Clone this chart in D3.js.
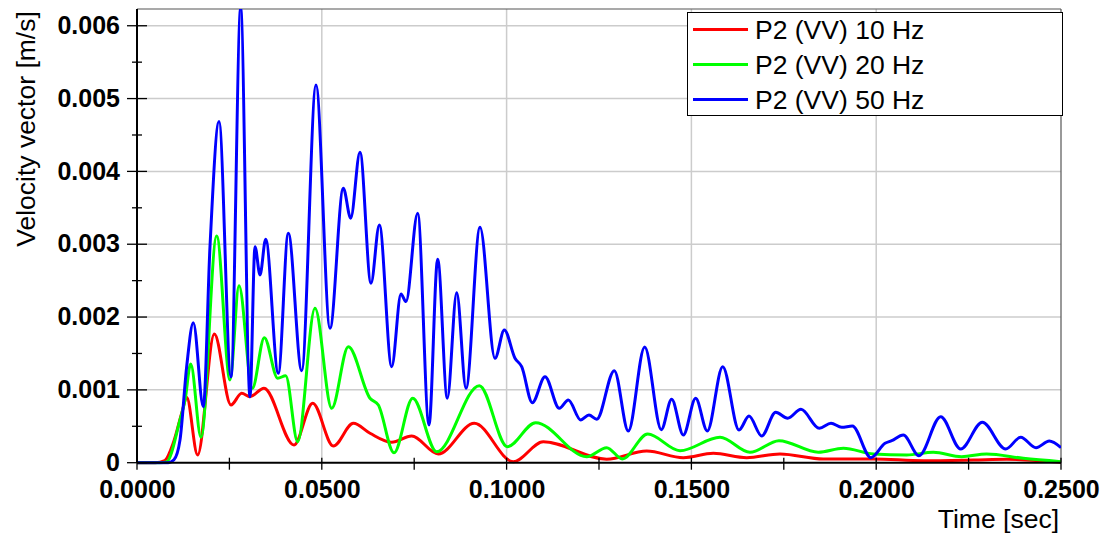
<!DOCTYPE html>
<html><head><meta charset="utf-8">
<script src="https://cdn.jsdelivr.net/npm/d3@7"></script>
<style>
html,body{margin:0;padding:0;background:#fff;}
svg{display:block;font-family:"Liberation Sans",Arial,sans-serif;}
</style></head>
<body><svg id="c" width="1111" height="540"></svg>
<script>
// ---- data (time in sec, velocity in m/s) ----
const seriesNames = ["P2 (VV) 10 Hz", "P2 (VV) 20 Hz", "P2 (VV) 50 Hz"];
const seriesColors = ["#ff0000", "#00ff00", "#0000ff"];

const red10 = [
 [0,0],[0.0050,0],[0.0075,0.00003],[0.0098,0.00027],[0.0121,0.00068],[0.01344,0.000898],
 [0.01641,0.000106],[0.02092,0.001768],[0.02543,0.000793],[0.02832,0.000953],[0.03057,0.000907],
 [0.03436,0.001022],[0.04248,0.000243],[0.04754,0.000816],[0.05311,0.000229],[0.05853,0.000541],
 [0.06304,0.000404],[0.06891,0.00028],[0.07432,0.000367],[0.08152,0.00012],[0.09126,0.000541],
 [0.10181,0.000014],[0.10993,0.000288],[0.12708,0.000047],[0.1379,0.000161],[0.14781,0.000069],
 [0.15593,0.000129],[0.16496,0.000069],[0.17397,0.00012],[0.18569,0.000051],[0.19923,0.000051],
 [0.21276,0.000027],[0.22628,0.000037],[0.23531,0.000047],[0.25,0.000005]
];
const green20 = [
 [0,0],[0.0062,0],[0.0080,0.00001],[0.01163,0.000587],[0.0130,0.00086],[0.01453,0.001356],
 [0.01732,0.000349],[0.02156,0.003114],[0.02516,0.001136],[0.0276,0.002431],[0.0312,0.001022],
 [0.03445,0.001717],[0.03807,0.001159],[0.04023,0.001195],[0.04348,0.000288],[0.04816,0.002121],
 [0.05268,0.000747],[0.05717,0.001593],[0.06304,0.000885],[0.0653,0.000793],[0.06953,0.000137],
 [0.07459,0.000885],[0.08108,0.000151],[0.09262,0.001058],[0.1002,0.00022],[0.10787,0.00055],
 [0.12167,0.000082],[0.12708,0.000206],[0.13131,0.000051],[0.13817,0.000394],[0.14692,0.000165],
 [0.15774,0.000349],[0.16585,0.000143],[0.1737,0.000302],[0.18434,0.000143],[0.19111,0.000198],
 [0.19923,0.00012],[0.20824,0.000106],[0.21546,0.000143],[0.22312,0.000082],[0.22988,0.00012],
 [0.23981,0.00006],[0.25,0.000014]
];
const blue50 = [
 [0,0],[0.0085,0],[0.0100,0.00004],[0.01163,0.00031],[0.01344,0.00132],[0.01523,0.001923],
 [0.01795,0.00077],[0.01975,0.00297],[0.02219,0.004684],[0.02543,0.00118],[0.02805,0.00624],
 [0.03057,0.000907],[0.03193,0.002967],[0.03328,0.002578],[0.03482,0.003069],[0.03823,0.001228],
 [0.04094,0.003151],[0.04456,0.001264],[0.04843,0.005188],[0.05222,0.001846],[0.05582,0.003769],
 [0.05782,0.003357],[0.06033,0.004264],[0.06331,0.002464],[0.06557,0.003265],[0.06891,0.001319],
 [0.07143,0.002317],[0.07278,0.002212],[0.07594,0.003426],[0.079,0.000518],[0.08135,0.002794],
 [0.08396,0.000885],[0.0865,0.002335],[0.08902,0.001022],[0.0928,0.003233],[0.09686,0.001434],
 [0.09938,0.001823],[0.10227,0.001434],[0.10408,0.001319],[0.10696,0.000824],[0.11039,0.001181],
 [0.11426,0.000747],[0.1167,0.000861],[0.12005,0.000587],[0.12229,0.000655],[0.12438,0.000596],
 [0.12914,0.001264],[0.13293,0.000435],[0.13736,0.001589],[0.14186,0.000454],[0.14466,0.000871],
 [0.14781,0.00038],[0.15116,0.000884],[0.1543,0.000435],[0.15847,0.001319],[0.16288,0.000449],
 [0.16558,0.000641],[0.16901,0.000367],[0.1728,0.000692],[0.17605,0.00061],[0.17965,0.000733],
 [0.1846,0.000472],[0.18777,0.000541],[0.19066,0.000486],[0.19353,0.000504],[0.19859,0.000069],
 [0.20238,0.000266],[0.20419,0.000302],[0.20733,0.00038],[0.21158,0.000096],[0.21745,0.000632],
 [0.22286,0.000188],[0.22871,0.000555],[0.23504,0.000188],[0.2391,0.000349],[0.24324,0.000206],
 [0.24684,0.000298],[0.25,0.000206]
];
const seriesData = [red10, green20, blue50];

const xTickValues = [0, 0.05, 0.1, 0.15, 0.2, 0.25];
const xMinorTicks = [0.025, 0.075, 0.125, 0.175, 0.225];
const yTickValues = [0, 0.001, 0.002, 0.003, 0.004, 0.005, 0.006];
const yMinorTicks = [0.0005, 0.0015, 0.0025, 0.0035, 0.0045, 0.0055];
const xTitle = "Time [sec]";
const yTitle = "Velocity vector [m/s]";

// ---- layout ----
const L = 137, R = 1061, T = 9, B = 462.7;
const svg = d3.select("#c");
const x = d3.scaleLinear().domain([0, 0.25]).range([L, R]);
const y = d3.scaleLinear().domain([0, 0.00623]).range([B, T]);

// grid
const g = svg.append("g");
g.selectAll(".gy").data(yTickValues.slice(1)).join("line")
  .attr("x1", L).attr("x2", R).attr("y1", d => y(d)).attr("y2", d => y(d))
  .attr("stroke", "#cccccc").attr("stroke-width", 1.5);
g.selectAll(".gx").data(xTickValues.slice(1, -1)).join("line")
  .attr("y1", T).attr("y2", B).attr("x1", d => x(d)).attr("x2", d => x(d))
  .attr("stroke", "#cccccc").attr("stroke-width", 1.5);

// frame top/right
svg.append("line").attr("x1", L).attr("x2", R).attr("y1", T).attr("y2", T).attr("stroke", "#555").attr("stroke-width", 1.2);
svg.append("line").attr("x1", R).attr("x2", R).attr("y1", T).attr("y2", B).attr("stroke", "#555").attr("stroke-width", 1.2);

// clip
svg.append("clipPath").attr("id", "clip").append("rect")
  .attr("x", L).attr("y", T).attr("width", R - L).attr("height", B - T + 2);

const line = d3.line().x(d => x(d[0])).y(d => y(d[1])).curve(d3.curveMonotoneX);
svg.append("g").attr("clip-path", "url(#clip)").selectAll("path").data(seriesData).join("path")
  .attr("d", line).attr("fill", "none")
  .attr("stroke", (d, i) => seriesColors[i]).attr("stroke-width", 3)
  .attr("stroke-linejoin", "round");

// axes
const xAxis = d3.axisBottom(x).tickValues(xTickValues).tickFormat(d3.format(".4f")).tickSize(0).tickPadding(0);
const xg = svg.append("g").attr("transform", `translate(0,${B})`).call(xAxis);
xg.select(".domain").remove();
xg.selectAll(".tick text").attr("y", 35).attr("dy", 0).attr("font-size", 25).attr("font-weight", "bold")
  .attr("font-family", "Liberation Sans, Arial, sans-serif").attr("fill", "#000");
svg.append("g").selectAll("line").data(xTickValues.concat(xMinorTicks)).join("line")
  .attr("x1", d => x(d)).attr("x2", d => x(d)).attr("y1", B - 5).attr("y2", B + 7)
  .attr("stroke", "#000").attr("stroke-width", 1.3);

const yAxis = d3.axisLeft(y).tickValues(yTickValues).tickFormat(d => d === 0 ? "0" : d3.format(".3f")(d)).tickSize(0).tickPadding(0);
const yg = svg.append("g").attr("transform", `translate(${L},0)`).call(yAxis);
yg.select(".domain").remove();
yg.selectAll(".tick text").attr("x", -17).attr("dy", "0.31em").attr("font-size", 25).attr("font-weight", "bold")
  .attr("font-family", "Liberation Sans, Arial, sans-serif").attr("fill", "#000");
svg.append("g").selectAll("line").data(yTickValues).join("line")
  .attr("y1", d => y(d)).attr("y2", d => y(d)).attr("x1", L - 10).attr("x2", L + 10)
  .attr("stroke", "#000").attr("stroke-width", 1.3);
svg.append("g").selectAll("line").data(yMinorTicks).join("line")
  .attr("y1", d => y(d)).attr("y2", d => y(d)).attr("x1", L - 5).attr("x2", L + 5)
  .attr("stroke", "#000").attr("stroke-width", 1.3);

// axis lines
svg.append("line").attr("x1", L).attr("x2", L).attr("y1", T).attr("y2", B).attr("stroke", "#000").attr("stroke-width", 2);
svg.append("line").attr("x1", L).attr("x2", R).attr("y1", B).attr("y2", B).attr("stroke", "#000").attr("stroke-width", 2);

// titles
svg.append("text").attr("x", 1059).attr("y", 528).attr("text-anchor", "end")
  .attr("font-size", 26.5).attr("fill", "#000").text(xTitle);
svg.append("text").attr("transform", "translate(35,129) rotate(-90)").attr("text-anchor", "middle")
  .attr("font-size", 26.5).attr("fill", "#000").text(yTitle);

// legend
const lg = svg.append("g");
lg.append("rect").attr("x", 687.5).attr("y", 12.5).attr("width", 375).attr("height", 103)
  .attr("fill", "#fff").attr("stroke", "#000").attr("stroke-width", 1);
const items = lg.selectAll("g.it").data(seriesNames).join("g")
  .attr("transform", (d, i) => `translate(0,${29.5 + i * 35})`);
items.append("line").attr("x1", 693).attr("x2", 748).attr("y1", 0).attr("y2", 0)
  .attr("stroke", (d, i) => seriesColors[i]).attr("stroke-width", 3);
items.append("text").attr("x", 755).attr("y", 9).attr("font-size", 26.5).attr("fill", "#000").text(d => d);
</script></body></html>
